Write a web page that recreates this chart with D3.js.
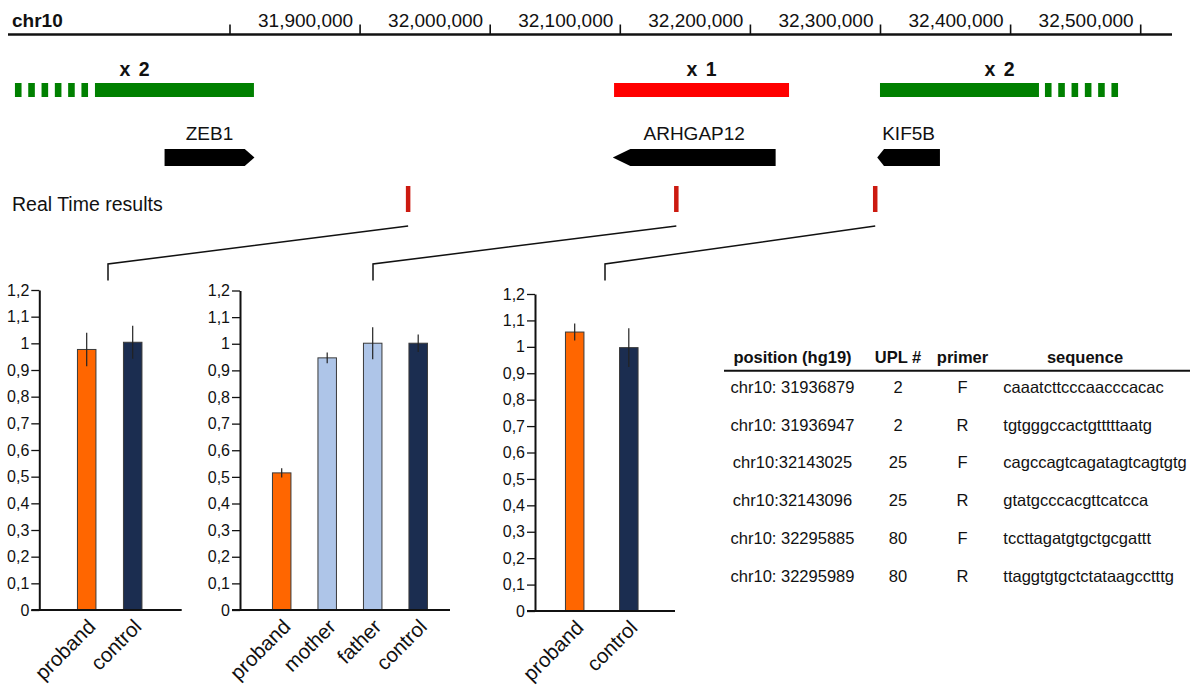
<!DOCTYPE html>
<html>
<head>
<meta charset="utf-8">
<script src="https://cdn.jsdelivr.net/npm/d3@7/dist/d3.min.js"></script>
<style>
  html, body { margin: 0; padding: 0; background: #fff; }
  svg { display: block; font-family: "Liberation Sans", Arial, Helvetica, sans-serif; }
</style>
</head>
<body>
<svg id="fig" width="1190" height="688"></svg>
<script>
// ---- Genomic ruler (chr10, hg19) ----
const chromName = "chr10";
const rulerTickValues = [31800000, 31900000, 32000000, 32100000, 32200000, 32300000, 32400000, 32500000];
const rulerTickLabels = ["", "31,900,000", "32,000,000", "32,100,000", "32,200,000", "32,300,000", "32,400,000", "32,500,000"];

// ---- Copy-number segments: solid = confirmed, fuzzy = uncertain boundary ----
const cnvLabels     = ["x 2", "x 1", "x 2"];
const cnvCopies     = [2, 1, 2];
const cnvSolid      = [[31696200, 31818400], [32095200, 32229700], [32299600, 32421800]];
const cnvFuzzy      = [[31634700, 31691400], null, [32426400, 32483300]];

// ---- Genes ----
const geneNames   = ["ZEB1", "ARHGAP12", "KIF5B"];
const geneStart   = [31749700, 32094200, 32297500];
const geneEnd     = [31818800, 32219400, 32345700];
const geneStrand  = ["+", "-", "-"];

// ---- qPCR primer table ----
const tableHeader    = ["position (hg19)", "UPL #", "primer", "sequence"];
const primerPosLabel = ["chr10: 31936879", "chr10: 31936947", "chr10:32143025", "chr10:32143096", "chr10: 32295885", "chr10: 32295989"];
const primerUPL      = ["2", "2", "25", "25", "80", "80"];
const primerDir      = ["F", "R", "F", "R", "F", "R"];
const primerSeq      = ["caaatcttcccaacccacac", "tgtgggccactgtttttaatg", "cagccagtcagatagtcagtgtg",
                        "gtatgcccacgttcatcca", "tccttagatgtgctgcgattt", "ttaggtgtgctctataagcctttg"];

// ---- Real-time relative quantification ----
const yTickValues = [0, 0.1, 0.2, 0.3, 0.4, 0.5, 0.6, 0.7, 0.8, 0.9, 1.0, 1.1, 1.2];
const yTickLabels = ["0", "0,1", "0,2", "0,3", "0,4", "0,5", "0,6", "0,7", "0,8", "0,9", "1", "1,1", "1,2"];

const zebSamples  = ["proband", "control"];
const zebValues   = [0.977, 1.004];
const zebErrors   = [0.063, 0.062];

const arhSamples  = ["proband", "mother", "father", "control"];
const arhValues   = [0.515, 0.947, 1.002, 1.002];
const arhErrors   = [0.017, 0.020, 0.060, 0.033];

const kifSamples  = ["proband", "control"];
const kifValues   = [1.056, 0.997];
const kifErrors   = [0.032, 0.073];

const sampleColor = { proband: "#ff6600", mother: "#aec5e8", father: "#aec5e8", control: "#1b2d50" };

// ------------------------------------------------------------------
const svg = d3.select("#fig");
const ink = "#111";

const gx = d3.scaleLinear().domain([31800000, 32500000]).range([230, 1140.7]);

// Ruler
svg.append("line").attr("x1", 8).attr("x2", 1172).attr("y1", 34.5).attr("y2", 34.5)
  .attr("stroke", ink).attr("stroke-width", 2.5);
svg.append("text").attr("x", 12).attr("y", 27).attr("font-size", 19).attr("font-weight", "bold")
  .attr("fill", ink).text(chromName);
const rt = svg.append("g").selectAll("g").data(rulerTickValues).join("g");
rt.append("line").attr("x1", d => gx(d)).attr("x2", d => gx(d)).attr("y1", 24.5).attr("y2", 34.5)
  .attr("stroke", ink).attr("stroke-width", 1.6);
rt.append("text").attr("x", d => gx(d) - 7).attr("y", 27).attr("text-anchor", "end")
  .attr("font-size", 19).attr("fill", ink).text((d, i) => rulerTickLabels[i]);

// Copy-number track
const cnvIdx = d3.range(cnvLabels.length);
const cnvColor = c => c > 1 ? "#008000" : "#ff0000";
svg.append("g").selectAll("rect").data(cnvIdx).join("rect")
  .attr("x", i => gx(cnvSolid[i][0])).attr("width", i => gx(cnvSolid[i][1]) - gx(cnvSolid[i][0]))
  .attr("y", 83).attr("height", 14).attr("fill", i => cnvColor(cnvCopies[i]));
svg.append("g").selectAll("line").data(cnvIdx.filter(i => cnvFuzzy[i])).join("line")
  .attr("x1", i => gx(cnvFuzzy[i][0])).attr("x2", i => gx(cnvFuzzy[i][1]))
  .attr("y1", 90).attr("y2", 90).attr("stroke", i => cnvColor(cnvCopies[i]))
  .attr("stroke-width", 14).attr("stroke-dasharray", "6.6 6.7");
svg.append("g").selectAll("text").data(cnvIdx).join("text")
  .attr("x", i => {
    const lo = cnvFuzzy[i] ? Math.min(cnvFuzzy[i][0], cnvSolid[i][0]) : cnvSolid[i][0];
    const hi = cnvFuzzy[i] ? Math.max(cnvFuzzy[i][1], cnvSolid[i][1]) : cnvSolid[i][1];
    return (gx(lo) + gx(hi)) / 2;
  })
  .attr("y", 76).attr("text-anchor", "middle").attr("font-size", 19.5).attr("font-weight", "bold")
  .attr("word-spacing", 3).attr("fill", ink).text(i => cnvLabels[i]);

// Genes
const geneIdx = d3.range(geneNames.length);
const gTop = 149, gBot = 166, gMid = (gTop + gBot) / 2;
svg.append("g").selectAll("path").data(geneIdx).join("path")
  .attr("d", i => {
    const x0 = gx(geneStart[i]), x1 = gx(geneEnd[i]);
    const h = (x1 - x0) * 0.108;
    const pts = geneStrand[i] === "+"
      ? [[x0, gTop], [x1 - h, gTop], [x1, gMid], [x1 - h, gBot], [x0, gBot]]
      : [[x1, gTop], [x0 + h, gTop], [x0, gMid], [x0 + h, gBot], [x1, gBot]];
    return d3.line()(pts) + "Z";
  })
  .attr("fill", "#000");
svg.append("g").selectAll("text").data(geneIdx).join("text")
  .attr("x", i => (gx(geneStart[i]) + gx(geneEnd[i])) / 2).attr("y", 140)
  .attr("text-anchor", "middle").attr("font-size", 19).attr("fill", ink).text(i => geneNames[i]);

// Real-time amplicon markers
const primerPos = primerPosLabel.map(s => +s.split(":")[1]);
const amplicons = d3.range(0, primerPos.length, 2).map(k => (primerPos[k] + primerPos[k + 1]) / 2);
svg.append("text").attr("x", 12).attr("y", 210.5).attr("font-size", 19.5).attr("fill", ink)
  .text("Real Time results");
svg.append("g").selectAll("rect").data(amplicons).join("rect")
  .attr("x", d => gx(d) - 2.25).attr("width", 4.5).attr("y", 186).attr("height", 26)
  .attr("fill", "#cc1a10");

// Bar panels
const panels = [
  { samples: zebSamples, values: zebValues, errors: zebErrors, axisX: 39.3, yTop: 290, yBot: 610, xEnd: 181.7, first: 86.7, last: 132.7, drop: 108 },
  { samples: arhSamples, values: arhValues, errors: arhErrors, axisX: 240, yTop: 290.5, yBot: 610, xEnd: 450, first: 281.7, last: 418.2, drop: 373 },
  { samples: kifSamples, values: kifValues, errors: kifErrors, axisX: 535, yTop: 294, yBot: 611, xEnd: 675, first: 574.7, last: 628.8, drop: 605 }
];

panels.forEach((p, k) => {
  const y = d3.scaleLinear().domain([0, 1.2]).range([p.yBot, p.yTop]);
  const x = d3.scalePoint().domain(p.samples).range([p.first, p.last]);
  const g = svg.append("g");

  // connector from amplicon marker to panel
  const mx = gx(amplicons[k]);
  g.append("path").attr("d", d3.line()([[mx, 226], [p.drop, 264], [p.drop, 280.5]]))
    .attr("fill", "none").attr("stroke", ink).attr("stroke-width", 1.5);

  // y axis
  const ax = g.append("g").attr("transform", `translate(${p.axisX},0)`)
    .call(d3.axisLeft(y).tickValues(yTickValues).tickFormat((d, i) => yTickLabels[i])
      .tickSize(8).tickPadding(2).tickSizeOuter(0));
  ax.select(".domain").attr("stroke", ink).attr("stroke-width", 2);
  ax.selectAll(".tick line").attr("stroke", ink).attr("stroke-width", 1.3);
  ax.selectAll(".tick text").attr("font-size", 16).attr("fill", ink)
    .attr("font-family", "'Liberation Sans', Arial, sans-serif");

  // bars
  const bw = 18.5;
  g.selectAll("rect.bar").data(p.samples).join("rect").attr("class", "bar")
    .attr("x", d => x(d) - bw / 2).attr("width", bw)
    .attr("y", (d, i) => y(p.values[i])).attr("height", (d, i) => y(0) - y(p.values[i]))
    .attr("fill", d => sampleColor[d]).attr("stroke", "#3a3a3a").attr("stroke-width", 1);

  // error bars
  g.selectAll("line.err").data(p.samples).join("line").attr("class", "err")
    .attr("x1", d => x(d)).attr("x2", d => x(d))
    .attr("y1", (d, i) => y(p.values[i] + p.errors[i])).attr("y2", (d, i) => y(p.values[i] - p.errors[i]))
    .attr("stroke", "#222").attr("stroke-width", 1.2);

  // baseline
  g.append("line").attr("x1", p.axisX - 8).attr("x2", p.xEnd).attr("y1", y(0)).attr("y2", y(0))
    .attr("stroke", ink).attr("stroke-width", 2);

  // rotated sample labels
  g.selectAll("text.lab").data(p.samples).join("text").attr("class", "lab")
    .attr("transform", d => `translate(${x(d) + 10},${y(0) + 18}) rotate(-45)`)
    .attr("text-anchor", "end").attr("font-size", 20.5).attr("fill", ink).text(d => d);
});

// Primer table
const colX = [792.5, 898, 962.5, 1085];
const tbl = svg.append("g").attr("fill", ink);
tbl.selectAll("text.h").data(tableHeader).join("text").attr("class", "h")
  .attr("x", (d, i) => colX[i]).attr("y", 362.7).attr("text-anchor", "middle")
  .attr("font-size", 16.5).attr("font-weight", "bold").text(d => d);
tbl.append("line").attr("x1", 724).attr("x2", 1190).attr("y1", 370.7).attr("y2", 370.7)
  .attr("stroke", ink).attr("stroke-width", 2);
const rowY = i => 392.7 + i * 37.8;
const rows = tbl.selectAll("g.row").data(primerPosLabel).join("g").attr("class", "row");
rows.append("text").attr("x", colX[0]).attr("y", (d, i) => rowY(i)).attr("text-anchor", "middle")
  .attr("font-size", 16.5).text(d => d);
rows.append("text").attr("x", colX[1]).attr("y", (d, i) => rowY(i)).attr("text-anchor", "middle")
  .attr("font-size", 16.5).text((d, i) => primerUPL[i]);
rows.append("text").attr("x", colX[2]).attr("y", (d, i) => rowY(i)).attr("text-anchor", "middle")
  .attr("font-size", 16.5).text((d, i) => primerDir[i]);
rows.append("text").attr("x", 1003.3).attr("y", (d, i) => rowY(i))
  .attr("font-size", 16.5).text((d, i) => primerSeq[i]);
</script>
</body>
</html>
